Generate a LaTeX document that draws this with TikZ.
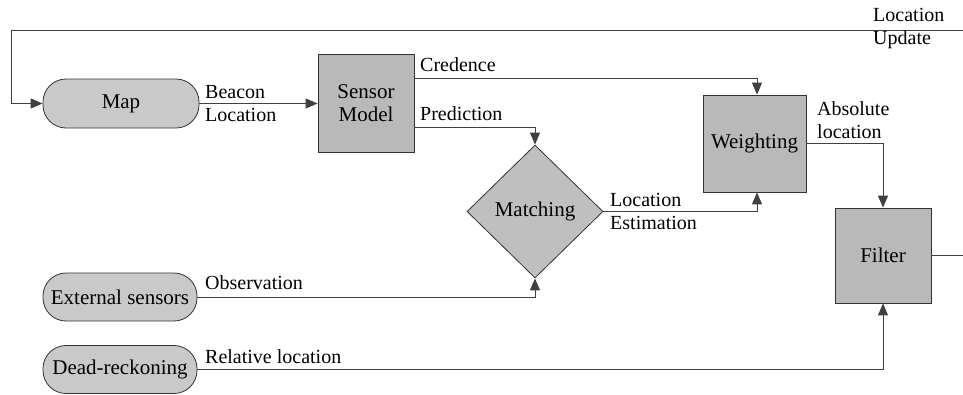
\documentclass[tikz,border=0pt]{standalone}
\usepackage{fontspec}
\setmainfont{Liberation Serif}
\usetikzlibrary{arrows.meta,shapes.geometric,calc}
\begin{document}
\begin{tikzpicture}[x=1pt,y=-1pt,
  conn/.style={draw=black!75, line width=0.9pt},
  tipstyle/.tip={Triangle[length=12pt,width=10pt]},
  arr/.style={conn, -tipstyle},
  term/.style={rectangle, rounded corners=23pt, draw=black!80, line width=0.8pt, fill=gray!42,
    font=\rmfamily\fontsize{21}{23}\selectfont, inner sep=0pt},
  proc/.style={rectangle, draw=black!80, line width=0.8pt, fill=gray!55,
    font=\rmfamily\fontsize{21}{23}\selectfont, inner sep=0pt, align=center},
  deci/.style={diamond, draw=black!80, line width=0.8pt, fill=gray!50,
    font=\rmfamily\fontsize{21}{23}\selectfont, inner sep=0pt},
  lbl/.style={font=\rmfamily\fontsize{20}{23}\selectfont, inner sep=0pt, anchor=west, align=left}]
\useasboundingbox (0,0) rectangle (963,394);
\clip (0,0) rectangle (963,394);

% nodes
\node[term, minimum width=156pt, minimum height=49pt] (map) at (121,103.5) {Map};
\node[proc, minimum width=96pt, minimum height=98pt] (sm) at (366,103) {Sensor\\Model};
\node[proc, minimum width=103pt, minimum height=97pt] (w) at (754.5,143.5) {Weighting};
\node[deci, minimum width=136pt, minimum height=133pt] (mt) at (535,211.5) {Matching};
\node[proc, minimum width=96pt, minimum height=95pt] (f) at (883,255.5) {Filter};
\node[term, minimum width=154pt, minimum height=48pt] (ext) at (120,297) {External sensors};
\node[term, minimum width=154pt, minimum height=48pt] (dr) at (120,369.5) {Dead-reckoning};

% free-end coordinates of the feedback loop
\coordinate (edge) at (975,0);
\coordinate (fbl) at (11,30);

% connectors
\draw[arr] (map.east) -- (map.east -| sm.west);
\draw[arr] ($(sm.east)+(0,-25)$) -| ($(w.north)+(2.5,0)$);
\draw[arr] ($(sm.east)+(0,24)$) -| (mt.north);
\draw[arr] (mt.east) -| ($(w.south)+(2.5,0)$);
\draw[arr] (w.east) -| (f.north);
\draw[arr] (ext.east) -| (mt.south);
\draw[arr] (dr.east) -| (f.south);
\draw[arr] (f.east) -- (f.east -| edge) |- (fbl) |- (map.west);

% labels
\node[lbl] (lb1) at (205,104) {Beacon\\Location};
\node[lbl] (lcr) at (420,65) {Credence};
\node[lbl] (lpr) at (420,114) {Prediction};
\node[lbl] (lup) at (873,29) {Location\\Update};
\node[lbl] (lab) at (817,120) {Absolute\\location};
\node[lbl] (les) at (610,211) {Location\\Estimation};
\node[lbl] (lob) at (205,283) {Observation};
\node[lbl] (lrl) at (205,357) {Relative location};
\end{tikzpicture}
\end{document}
